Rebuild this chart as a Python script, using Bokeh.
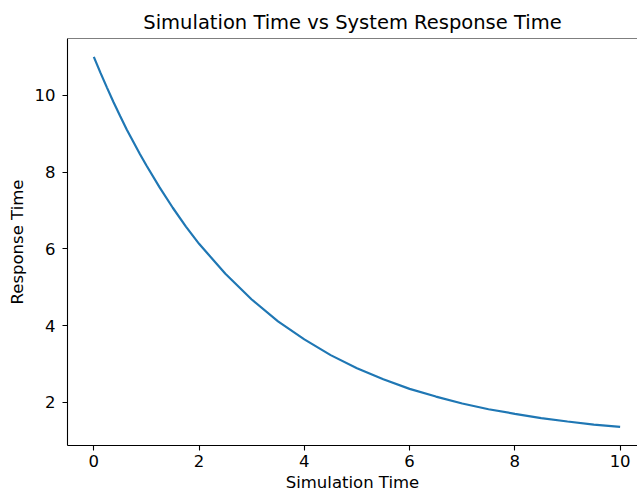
from bokeh.plotting import figure
from bokeh.models import FixedTicker, Range1d, Span
from bokeh.embed import file_html
from bokeh.resources import INLINE

# Data
sim_time = [0.0, 0.125, 0.25, 0.375, 0.5, 0.625, 0.75, 0.875, 1.0, 1.25, 1.5,
            1.75, 2.0, 2.5, 3.0, 3.5, 4.0, 4.5, 5.0, 5.5, 6.0, 6.5, 7.0, 7.5,
            8.0, 8.5, 9.0, 9.5, 10.0]
response_time = [11.0, 10.59, 10.20, 9.82, 9.46, 9.11, 8.79, 8.47, 8.17, 7.60,
                 7.07, 6.58, 6.13, 5.35, 4.68, 4.11, 3.64, 3.23, 2.89, 2.60,
                 2.35, 2.15, 1.97, 1.82, 1.70, 1.59, 1.50, 1.42, 1.36]
x_ticks = [0, 2, 4, 6, 8, 10]
y_ticks = [2, 4, 6, 8, 10]

FONT = "DejaVu Sans"

p = figure(width=637, height=494, output_backend="svg", toolbar_location=None,
           x_range=Range1d(-0.5, 10.33), y_range=Range1d(0.875, 11.48),
           min_border_left=67, min_border_right=0, min_border_top=38,
           min_border_bottom=46)

p.title.text = "Simulation Time vs System Response Time"
p.title.text_font = FONT
p.title.text_font_size = "19.5px"
p.title.text_font_style = "normal"
p.title.align = "center"
p.title.offset = 4
p.title.text_color = "#000000"

p.line(sim_time, response_time, line_color="#1f77b4", line_width=2.2)

p.grid.visible = False
p.outline_line_color = None
p.background_fill_color = "white"
p.border_fill_color = "white"

for ax in (p.xaxis[0], p.yaxis[0]):
    ax.axis_line_color = "black"
    ax.axis_line_width = 1.1
    ax.major_tick_line_color = "black"
    ax.major_tick_line_width = 1.1
    ax.major_tick_out = 5
    ax.major_tick_in = 0
    ax.minor_tick_line_color = None
    ax.major_label_text_font = FONT
    ax.major_label_text_font_size = "16.5px"
    ax.major_label_text_color = "black"
    ax.axis_label_text_font = FONT
    ax.axis_label_text_font_size = "16.5px"
    ax.axis_label_text_font_style = "normal"
    ax.axis_label_text_color = "black"

p.xaxis[0].ticker = FixedTicker(ticks=x_ticks)
p.yaxis[0].ticker = FixedTicker(ticks=y_ticks)
p.xaxis[0].axis_label = "Simulation Time"
p.yaxis[0].axis_label = "Response Time"
p.xaxis[0].major_label_standoff = 4
p.xaxis[0].axis_label_standoff = 3
p.yaxis[0].major_label_standoff = 7
p.yaxis[0].axis_label_standoff = 5

# top spine
top_spine = Span(location=p.y_range.end, dimension="width",
                 line_color="black", line_width=1.1)
p.add_layout(top_spine)

open("out.html", "w").write(file_html(p, INLINE))
